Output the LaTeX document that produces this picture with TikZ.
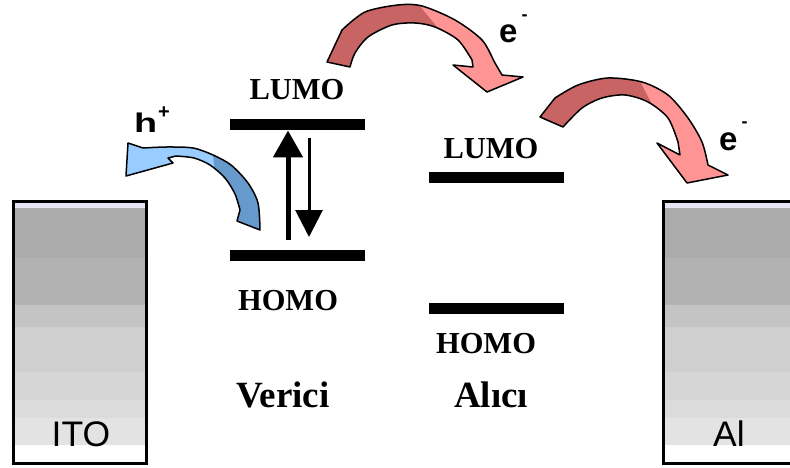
\documentclass[tikz,border=0pt]{standalone}
\usepackage{fontspec}
\setmainfont{Liberation Serif}
\newfontfamily\arialfont{Liberation Sans}
\usetikzlibrary{arrows.meta}
\definecolor{reddark}{HTML}{C86464}
\definecolor{redlight}{HTML}{FF9494}
\definecolor{bluedark}{HTML}{6699CC}
\definecolor{bluelight}{HTML}{99CCFF}
\tikzset{
  levelbar/.style={fill=black, minimum width=135pt, minimum height=11pt, inner sep=0pt, outer sep=0pt},
  orblabel/.style={font=\bfseries\fontsize{30.5}{30}\selectfont, inner sep=0pt, anchor=base},
  rolelabel/.style={font=\bfseries\fontsize{37}{37}\selectfont, inner sep=0pt, anchor=base},
  electrode/.style={draw=black, line width=3pt, inner sep=0pt},
  elabel/.style={font=\arialfont\fontsize{35.5}{35}\selectfont, inner sep=0pt, anchor=base},
  chargelabel/.style={font=\arialfont\bfseries\fontsize{33}{33}\selectfont, inner sep=0pt, anchor=base west},
  signlabel/.style={font=\arialfont\bfseries\fontsize{18}{18}\selectfont, inner sep=0pt},
  bendarrow/.style={line width=1.5pt, line join=round},
}
\begin{document}
\begin{tikzpicture}[x=1pt,y=-1pt]
\useasboundingbox (0,0) rectangle (790,468);
\fill[white] (0,0) rectangle (790,468);

% electrode fills (banded grey)
\foreach \xa/\xb in {13.5/146, 663.5/800}{
  \foreach \ya/\yb/\c in {201.5/258/33, 258/305/30, 305/327/23, 327/372/19, 372/400/16, 400/418/14, 418/445/11}{
    \fill[black!\c] (\xa,\ya) rectangle (\xb,\yb);
  }
  \fill[black!38!blue!10!white] (\xa,203) rectangle (\xb,208);
}
\node[electrode, minimum width=132.5pt, minimum height=262pt] (ito) at (79.75,332.5) {};
\node[electrode, minimum width=136.5pt, minimum height=262pt] (al) at (731.75,332.5) {};
\node[elabel] (itot) at (81,446) {ITO};
\node[elabel] (alt) at (729,446) {Al};

% energy levels
\node[levelbar] (dL) at (297.5,125) {};
\node[levelbar] (dH) at (297.5,255) {};
\node[levelbar] (aL) at (496.5,177.5) {};
\node[levelbar] (aH) at (496.5,308) {};

\node[orblabel] (dLt) at (297,99.5) {LUMO};
\node[orblabel] (dHt) at (288,310) {HOMO};
\node[orblabel] (aLt) at (491,158) {LUMO};
\node[orblabel] (aHt) at (486,353) {HOMO};
\node[rolelabel] (ver) at (283,407) {Verici};
\node[rolelabel] (alc) at (491,407) {Alıcı};

% excitation arrows
\draw[line width=5pt, -{Triangle[width=29pt,length=27pt]}]
  ([xshift=-9.5pt,yshift=9.5pt]dH.north) -- ([xshift=-9.5pt]dL.south);
\draw[line width=3pt, -{Triangle[width=27pt,length=27pt]}]
  ([xshift=11.5pt,yshift=-7.5pt]dL.south) -- ([xshift=11.5pt,yshift=12.5pt]dH.north);

% hole transfer arrow (blue)
\fill[bluedark] (128,143) -- plot[smooth] coordinates {(143,148) (167,147) (193,148) (213,155) (231,165) (248,183) (258,203) (260,230)}
  -- (237,221) -- plot[smooth] coordinates {(240,210) (235,194) (225,178) (210,165) (194,158) (176,156)}
  -- (168,158) -- (173,163) -- (126,176) -- cycle;
\fill[bluelight] (128,143) -- plot[smooth] coordinates {(143,148) (167,147) (193,148) (213,155)}
  -- plot[smooth] coordinates {(214,167) (194,158) (176,156)}
  -- (168,158) -- (173,163) -- (126,176) -- cycle;
\draw[bendarrow] (128,143) -- plot[smooth] coordinates {(143,148) (167,147) (193,148) (213,155) (231,165) (248,183) (258,203) (260,230)}
  -- (237,221) -- plot[smooth] coordinates {(240,210) (235,194) (225,178) (210,165) (194,158) (176,156)}
  -- (168,158) -- (173,163) -- (126,176) -- cycle;

% electron transfer arrow 1 (red)
\fill[reddark] (327,62) -- plot[smooth] coordinates {(342,30) (365,12) (398,5) (422,6) (455,20) (482,40) (495,63) (502,75)}
  -- (523,77) -- (487,92) -- (453,65) -- (473,67)
  -- plot[smooth] coordinates {(472,60) (458,40) (435,27) (415,23) (392,25) (368,37) (355,53) (350,67)} -- cycle;
\fill[redlight] (420,6) -- plot[smooth] coordinates {(422,6) (455,20) (482,40) (495,63) (502,75)}
  -- (523,77) -- (487,92) -- (453,65) -- (473,67)
  -- plot[smooth] coordinates {(472,60) (458,40) (438,28)} -- cycle;
\draw[bendarrow] (327,62) -- plot[smooth] coordinates {(342,30) (365,12) (398,5) (422,6) (455,20) (482,40) (495,63) (502,75)}
  -- (523,77) -- (487,92) -- (453,65) -- (473,67)
  -- plot[smooth] coordinates {(472,60) (458,40) (435,27) (415,23) (392,25) (368,37) (355,53) (350,67)} -- cycle;

% electron transfer arrow 2 (red)
\fill[reddark] (540,117) -- plot[smooth] coordinates {(555,98) (578,85) (608,78) (642,82) (668,95) (688,118) (702,142) (708,165)}
  -- (728,175) -- (687,183) -- (657,143) -- (680,155)
  -- plot[smooth] coordinates {(678,142) (668,118) (648,102) (625,95) (602,98) (582,108) (563,127)} -- cycle;
\fill[redlight] (640,81) -- plot[smooth] coordinates {(642,82) (668,95) (688,118) (702,142) (708,165)}
  -- (728,175) -- (687,183) -- (657,143) -- (680,155)
  -- plot[smooth] coordinates {(678,142) (668,118) (652,104)} -- cycle;
\draw[bendarrow] (540,117) -- plot[smooth] coordinates {(555,98) (578,85) (608,78) (642,82) (668,95) (688,118) (702,142) (708,165)}
  -- (728,175) -- (687,183) -- (657,143) -- (680,155)
  -- plot[smooth] coordinates {(678,142) (668,118) (648,102) (625,95) (602,98) (582,108) (563,127)} -- cycle;

% charge labels
\node[chargelabel, font=\arialfont\bfseries\fontsize{27}{27}\selectfont] (h) at (134,133) {\scalebox{1.4}[1]{h}};
\node[signlabel, font=\arialfont\bfseries\fontsize{20}{20}\selectfont] (hs) at (164,113) {+};
\node[chargelabel] (e1) at (499,43) {e};
\node[signlabel] (e1s) at (524.5,18) {-};
\node[chargelabel] (e2) at (719,150) {e};
\node[signlabel] (e2s) at (744.5,125) {-};
\end{tikzpicture}
\end{document}
